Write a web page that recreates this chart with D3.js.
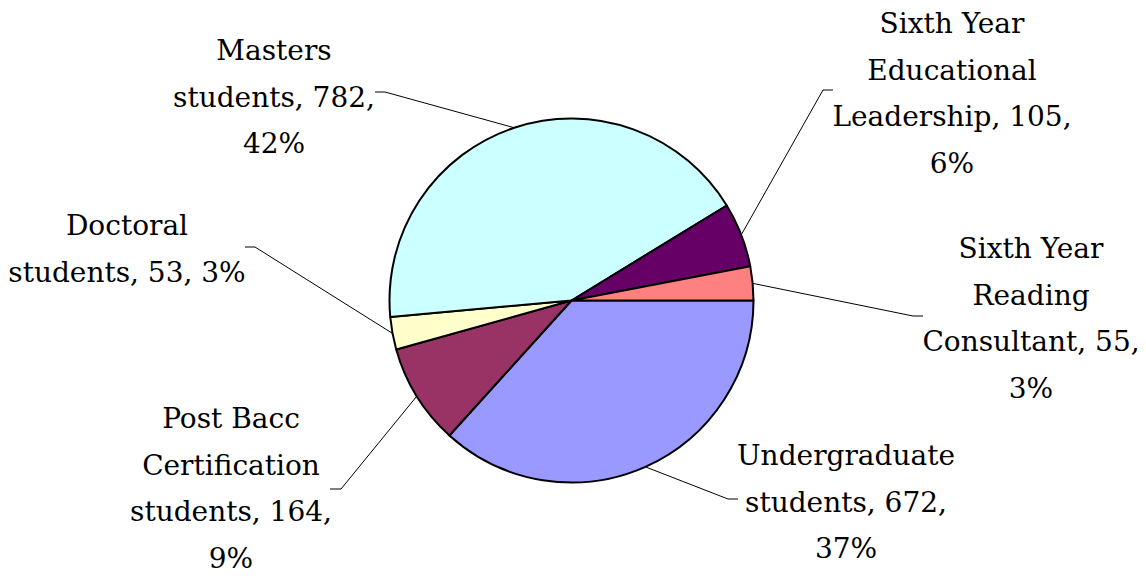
<!DOCTYPE html>
<html>
<head>
<meta charset="utf-8">
<script src="https://cdn.jsdelivr.net/npm/d3@7"></script>
<style>
  body { margin: 0; background: #fff; }
  svg text.label { font-family: "DejaVu Serif", serif; }
</style>
</head>
<body>
<div id="chart"></div>
<script>
// data
var categories = ["Undergraduate students", "Post Bacc Certification students", "Doctoral students",
                  "Masters students", "Sixth Year Educational Leadership", "Sixth Year Reading Consultant"];
var counts = [672, 164, 53, 782, 105, 55];
var percentLabels = ["37%", "9%", "3%", "42%", "6%", "3%"];
var colors = ["#9999ff", "#993366", "#ffffcc", "#ccffff", "#660066", "#ff8080"];

// label layout: centre x, first baseline, words per line, leader knee and end
var labelLayout = [
  { cx: 846, y: 465, lines: [1, 2, 1],    knee: [728, 499], end: [738, 499] },
  { cx: 231, y: 428, lines: [2, 1, 2, 1], knee: [341, 489], end: [330, 489] },
  { cx: 127, y: 235, lines: [1, 3],       knee: [255, 247], end: [245, 247] },
  { cx: 274, y: 60,  lines: [1, 2, 1],    knee: [385, 92],  end: [375, 92] },
  { cx: 952, y: 33,  lines: [2, 1, 2, 1], knee: [823, 90],  end: [833, 90] },
  { cx: 1031, y: 258, lines: [2, 1, 2, 1], knee: [913, 316], end: [923, 316] }
];

var width = 1146;
var height = 576;
var cx = 571.5, cy = 300.5, radius = 182;
var lineHeight = 46.5;

var svg = d3.select("#chart")
  .append("svg")
    .attr("width", width)
    .attr("height", height);

var data = categories.map(function (c, i) {
  return { name: c, value: counts[i], pct: percentLabels[i], color: colors[i], layout: labelLayout[i] };
});

// start at 3 o'clock, go clockwise
var pie = d3.pie()
  .sort(null)
  .value(function (d) { return d.value; })
  .startAngle(Math.PI / 2)
  .endAngle(Math.PI / 2 + 2 * Math.PI);

var arc = d3.arc().innerRadius(0).outerRadius(radius);
var arcs = pie(data);

var g = svg.append("g").attr("transform", "translate(" + cx + "," + cy + ")");

g.selectAll("path")
  .data(arcs)
  .enter()
  .append("path")
    .attr("d", arc)
    .attr("fill", function (d) { return d.data.color; })
    .attr("stroke", "#000")
    .attr("stroke-width", 2)
    .attr("stroke-linejoin", "round");

// leader lines from the slice edge at its mid angle
svg.selectAll(".leader")
  .data(arcs)
  .enter()
  .append("polyline")
    .attr("class", "leader")
    .attr("fill", "none")
    .attr("stroke", "#000")
    .attr("stroke-width", 1)
    .attr("points", function (d) {
      var a = (d.startAngle + d.endAngle) / 2;
      var ex = cx + Math.sin(a) * radius;
      var ey = cy - Math.cos(a) * radius;
      var L = d.data.layout;
      return [[ex, ey], L.knee, L.end].map(function (p) { return p[0] + "," + p[1]; }).join(" ");
    });

// labels: "name, value, pct" split into lines
var labels = svg.selectAll(".label")
  .data(data)
  .enter()
  .append("text")
    .attr("class", "label")
    .attr("text-anchor", "middle")
    .style("font-size", "28px")
    .style("fill", "#000");

labels.each(function (d) {
  var t = d3.select(this);
  var words = (d.name + ", " + d.value + ", " + d.pct).split(" ");
  var pos = 0;
  d.layout.lines.forEach(function (n, i) {
    t.append("tspan")
      .attr("x", d.layout.cx)
      .attr("y", d.layout.y + i * lineHeight)
      .text(words.slice(pos, pos + n).join(" "));
    pos += n;
  });
});
</script>
</body>
</html>
